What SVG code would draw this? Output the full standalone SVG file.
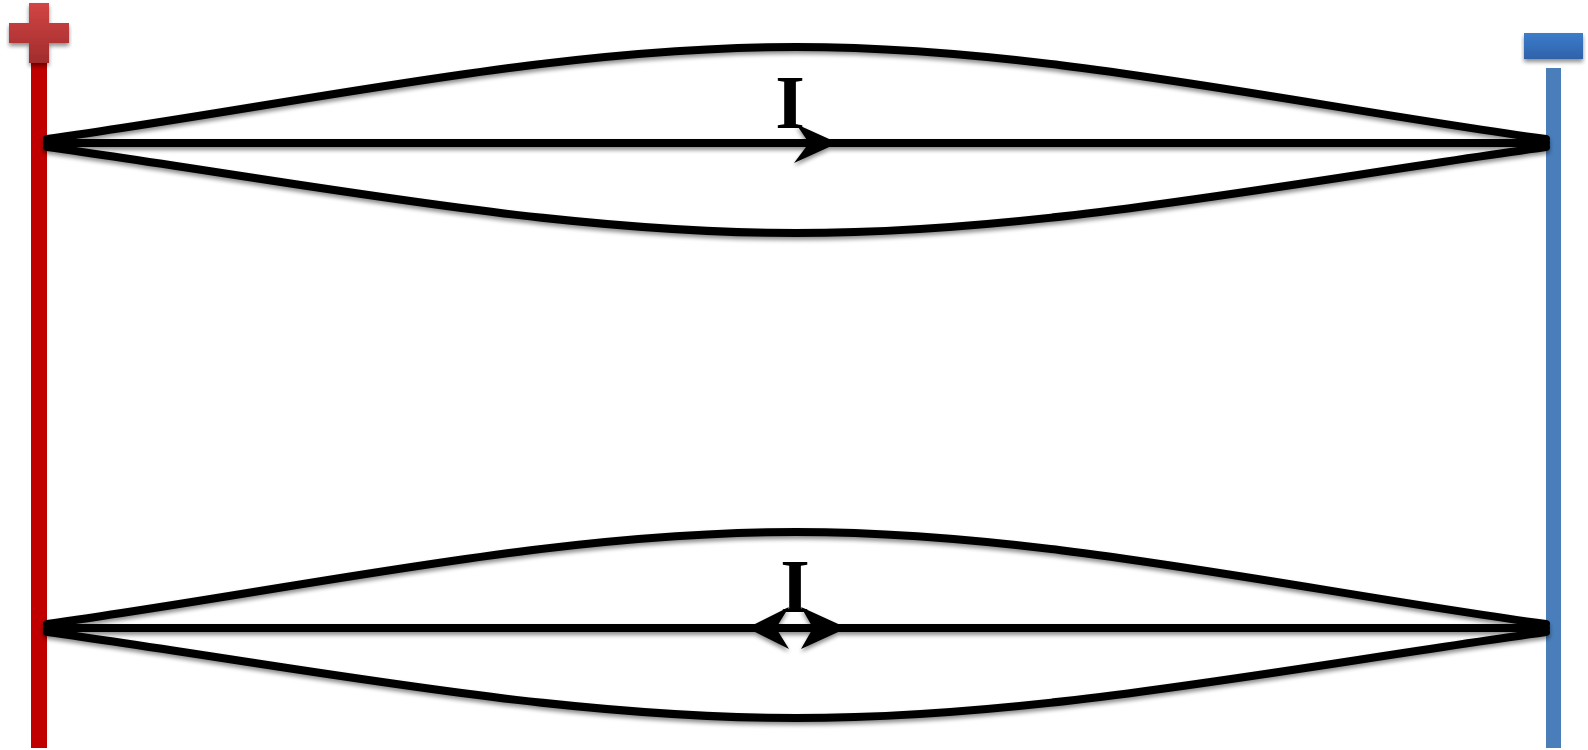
<svg xmlns="http://www.w3.org/2000/svg" width="1588" height="750" viewBox="0 0 1588 750">
<style>
.wire{fill:none;stroke:#000;stroke-width:8;stroke-linecap:round}
.head{fill:#000}
.lbl{font-family:"Liberation Serif","Times New Roman",serif;font-weight:bold;font-size:76px;fill:#000;text-anchor:middle}
</style>
<defs>
<filter id="sh" x="-5%" y="-20%" width="110%" height="160%">
<feGaussianBlur in="SourceAlpha" stdDeviation="2.2"/>
<feOffset dx="0" dy="3" result="b"/>
<feComponentTransfer><feFuncA type="linear" slope="0.45"/></feComponentTransfer>
<feMerge><feMergeNode/><feMergeNode in="SourceGraphic"/></feMerge>
</filter>
<linearGradient id="gr" x1="0" y1="0" x2="0" y2="1">
<stop offset="0" stop-color="#d24545"/><stop offset="1" stop-color="#a12c2c"/>
</linearGradient>
<linearGradient id="gb" x1="0" y1="0" x2="0" y2="1">
<stop offset="0" stop-color="#3d7ccb"/><stop offset="1" stop-color="#2f62aa"/>
</linearGradient>
<g id="bundle">
<path class="wire" d="M47,139 C300,104 550,47 796,47 S1292,104 1546,139"/>
<path class="wire" d="M47,143 L1546,143"/>
<path class="wire" d="M47,147 C300,182 550,233 796,233 S1292,182 1546,147"/>
</g>
</defs>
<g id="terminal-plus">
<rect x="31" y="60" width="16" height="688" fill="#c00000"/>
<path d="M29,3 H49 V23 H69 V43 H49 V63 H29 V43 H9 V23 H29 Z" fill="url(#gr)" filter="url(#sh)"/>
</g>
<g id="terminal-minus">
<rect x="1546" y="68" width="15" height="680" fill="#4a7ebb"/>
<rect x="1524" y="33" width="59" height="26" fill="url(#gb)" filter="url(#sh)"/>
</g>
<g id="connectors" filter="url(#sh)">
<use href="#bundle"/>
<use href="#bundle" transform="translate(0,485)"/>
<path class="head" d="M838,143 L796,124 L809,143 L794,163 Z"/>
<path class="head" d="M747,628 L789,607 L776,628 L789,649 Z"/>
<path class="head" d="M847,628 L801,607 L813,628 L801,649 Z"/>
</g>
<g id="labels">
<text class="lbl" x="790" y="128">I</text>
<text class="lbl" x="795" y="612">I</text>
</g>
</svg>
